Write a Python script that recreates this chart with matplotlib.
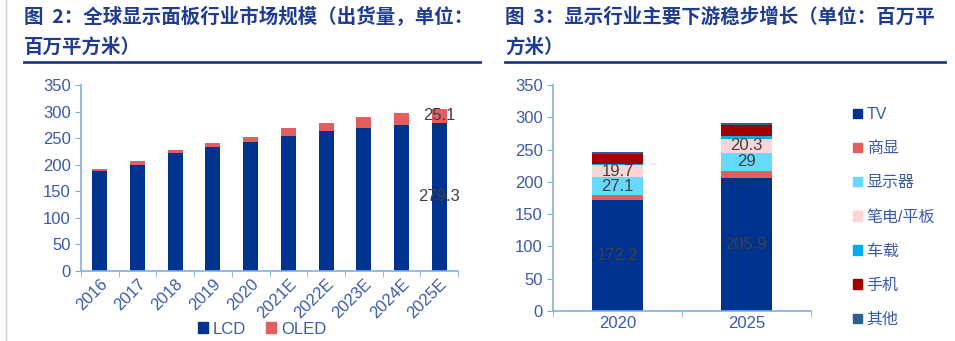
import numpy as np
import matplotlib
matplotlib.use("Agg")
import matplotlib.pyplot as plt
from matplotlib.patches import Patch
from matplotlib.lines import Line2D

plt.rcParams['font.family'] = ['Liberation Sans', 'Noto Sans CJK SC']

# left chart data
years = ['2016', '2017', '2018', '2019', '2020', '2021E', '2022E', '2023E', '2024E', '2025E']
lcd = [189, 200, 222, 233, 243, 254, 263, 269, 274, 279.3]
oled = [3, 7, 6, 8, 10, 15, 16, 20, 23, 25.1]

# right chart data
periods = ['2020', '2025']
seg_names = ['TV', '商显', '显示器', '笔电/平板', '车载', '手机', '其他']
tv = [172.2, 205.9]
shangxian = [7.5, 10.5]
monitor = [27.1, 29]
notebook = [19.7, 20.3]
car = [1, 6]
phone = [16, 17]
other = [2, 2.5]
seg_colors = ['#00338F', '#E35F5F', '#66D9FF', '#F9D5D5', '#00AEEF', '#A00000', '#2C5F8E']

TITLE_C = '#1F3C91'
TICK_C = '#3A5BAA'
AXIS_C = '#7FB2E0'
LBL_C = '#404040'

W, H = 955, 341
fig = plt.figure(figsize=(W / 100, H / 100), dpi=100)


def fx(px):
    return px / W


def fy(py):
    return 1 - py / H


# titles
tkw = dict(fontsize=14, fontweight='bold', color=TITLE_C, family=['Noto Sans CJK SC'], va='center')
fig.text(fx(24), fy(17), '图  2：全球显示面板行业市场规模（出货量，单位：', **tkw)
fig.text(fx(24), fy(47), '百万平方米）', **tkw)
fig.text(fx(505), fy(17), '图  3：显示行业主要下游稳步增长（单位：百万平', **tkw)
fig.text(fx(505), fy(47), '方米）', **tkw)
fig.add_artist(Line2D([fx(24), fx(480)], [fy(62), fy(62)], color=TITLE_C, lw=2))
fig.add_artist(Line2D([fx(505), fx(945)], [fy(62), fy(62)], color=TITLE_C, lw=2))
fig.add_artist(Line2D([fx(6), fx(6)], [fy(0), fy(341)], color='#D0D0D0', lw=1))


def style_axes(ax):
    for s in ['top', 'right']:
        ax.spines[s].set_visible(False)
    for s in ['left', 'bottom']:
        ax.spines[s].set_color(AXIS_C)
        ax.spines[s].set_linewidth(1.2)
    ax.set_ylim(0, 350)
    ax.set_yticks(range(0, 351, 50))
    ax.tick_params(axis='y', colors=AXIS_C, labelcolor=TICK_C, labelsize=12, length=4, direction='out')
    ax.tick_params(axis='x', which='major', length=0, labelcolor=TICK_C, labelsize=12)
    ax.tick_params(axis='x', which='minor', length=4, color=AXIS_C, direction='out')


# ---- left chart ----
ax1 = fig.add_axes([fx(81), fy(271), fx(458) - fx(81), fy(85) - fy(271)])
x = np.arange(len(years))
ax1.bar(x, lcd, width=0.4, color='#00338F', label='LCD')
ax1.bar(x, oled, width=0.4, bottom=lcd, color='#E35F5F', label='OLED')
ax1.set_xlim(-0.5, len(years) - 0.5)
style_axes(ax1)
ax1.set_xticks(x)
ax1.set_xticklabels(years, rotation=45, ha='right', rotation_mode='anchor')
ax1.set_xticks(np.arange(-0.5, len(years), 1), minor=True)
ax1.text(x[-1], lcd[-1] / 2, f'{lcd[-1]}', ha='center', va='center', color=LBL_C, fontsize=12)
ax1.text(x[-1], lcd[-1] + oled[-1] / 2, f'{oled[-1]}', ha='center', va='center', color=LBL_C, fontsize=12)
fig.legend(handles=[Patch(color='#00338F', label='LCD'), Patch(color='#E35F5F', label='OLED')],
           loc='center', bbox_to_anchor=(fx(262), fy(329)), ncol=2, frameon=False,
           fontsize=12, handlelength=0.6, handleheight=0.6, handletextpad=0.3,
           columnspacing=1.2, labelcolor=TICK_C, borderpad=0)

# ---- right chart ----
ax2 = fig.add_axes([fx(553), fy(311), fx(811) - fx(553), fy(85) - fy(311)])
xr = np.arange(len(periods))
series = [tv, shangxian, monitor, notebook, car, phone, other]
bottom = np.zeros(len(periods))
for name, vals, col in zip(seg_names, series, seg_colors):
    ax2.bar(xr, vals, width=0.4, bottom=bottom, color=col, label=name)
    if name in ('TV', '显示器', '笔电/平板'):
        for i, v in enumerate(vals):
            ax2.text(xr[i], bottom[i] + v / 2, f'{v:g}', ha='center', va='center',
                     color=LBL_C, fontsize=12)
    bottom = bottom + np.array(vals)
ax2.set_xlim(-0.5, 1.5)
style_axes(ax2)
ax2.set_xticks(xr)
ax2.set_xticklabels(periods)
ax2.set_xticks([-0.5, 0.5, 1.5], minor=True)

handles = [Patch(color=c, label=n) for n, c in zip(seg_names, seg_colors)]
fig.legend(handles=handles, loc='upper left', bbox_to_anchor=(fx(845), fy(99)),
           frameon=False, fontsize=11.5, handlelength=0.55, handleheight=0.55,
           handletextpad=0.3, labelspacing=1.2, labelcolor=TICK_C, borderpad=0)

fig.savefig('out.png', dpi=100)
